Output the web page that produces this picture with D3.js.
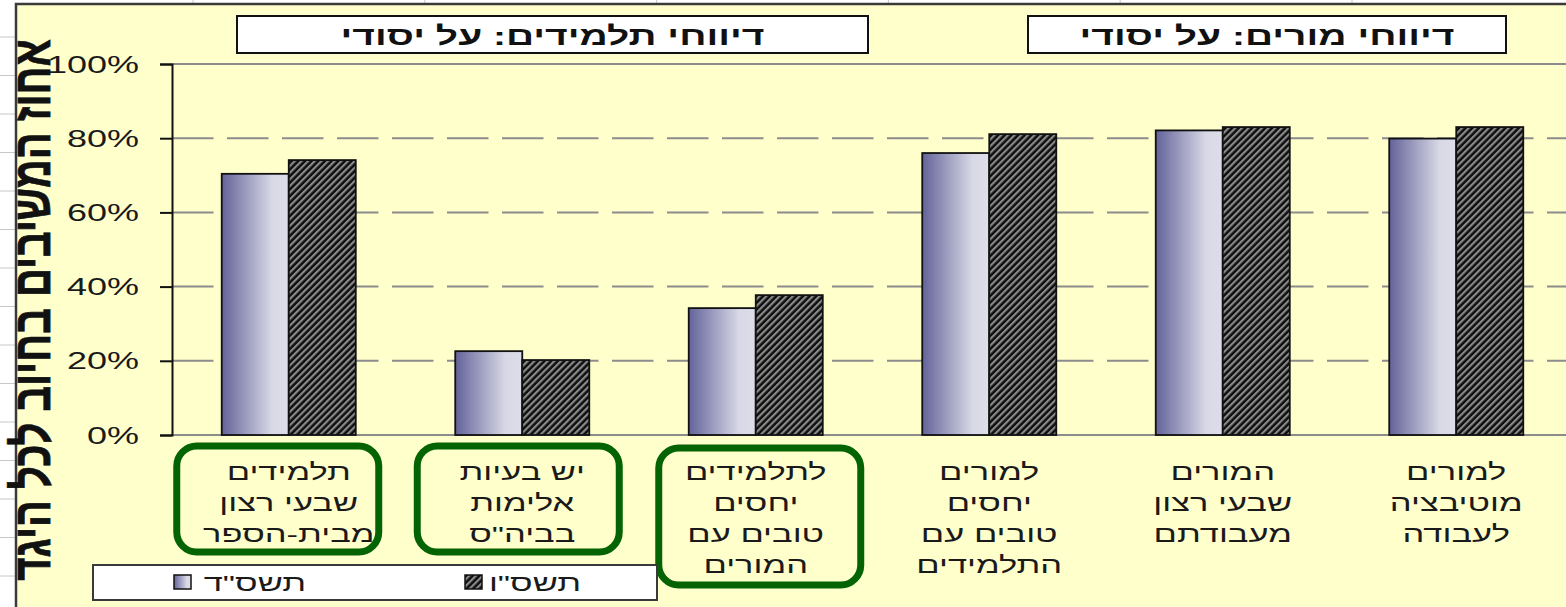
<!DOCTYPE html>
<html>
<head>
<meta charset="utf-8">
<script src="https://cdn.jsdelivr.net/npm/d3@7"></script>
<style>
  html, body { margin: 0; padding: 0; background: #fff; overflow: hidden; }
  svg { display: block; }
</style>
</head>
<body>
<svg id="chart" width="1566" height="607"></svg>
<script>
// ---- data ----
const categories = [
  ["תלמידים", "שבעי רצון", "מבית-הספר"],
  ["יש בעיות", "אלימות", "בביה\"ס"],
  ["לתלמידים", "יחסים", "טובים עם", "המורים"],
  ["למורים", "יחסים", "טובים עם", "התלמידים"],
  ["המורים", "שבעי רצון", "מעבודתם"],
  ["למורים", "מוטיבציה", "לעבודה"]
];
const seriesNames = ["תשס\"ד", "תשס\"ו"];
const valuesTashsad = [70.4, 22.6, 34.2, 76.0, 82.1, 79.9];
const valuesTashsav = [74.1, 20.2, 37.7, 81.1, 83.0, 83.0];
const yTickValues = [0, 20, 40, 60, 80, 100];
const panelTitles = ["דיווחי תלמידים: על יסודי", "דיווחי מורים: על יסודי"];
const yAxisTitle = "אחוז המשיבים בחיוב לכל היגד";
const highlightedCategories = [0, 1, 2];

// ---- layout ----
const W = 1566, H = 607;
const plot = { left: 172, right: 1573, top: 64, bottom: 435 };
const SX = 1.5;                       // horizontal text stretch of the sheet
const FONT = "'Liberation Sans', Arial, sans-serif";
const chartFill = "#FFFFCC";

const svg = d3.select("#chart");
const defs = svg.append("defs");

// gradient fill for the first series
const grad = defs.append("linearGradient").attr("id", "gradA")
  .attr("x1", 0).attr("x2", 1).attr("y1", 0).attr("y2", 0);
grad.append("stop").attr("offset", "0%").attr("stop-color", "#63639a");
grad.append("stop").attr("offset", "75%").attr("stop-color", "#d8d8e6");
grad.append("stop").attr("offset", "100%").attr("stop-color", "#dedeea");

// diagonal hatch for the second series
const hatch = defs.append("pattern").attr("id", "hatchB")
  .attr("patternUnits", "userSpaceOnUse")
  .attr("width", 4.7).attr("height", 4.7)
  .attr("patternTransform", "rotate(45)");
hatch.append("rect").attr("width", 4.7).attr("height", 4.7).attr("fill", "#0d0d0d");
hatch.append("rect").attr("width", 2.2).attr("height", 4.7).attr("fill", "#8a8a8a");

// ---- spreadsheet backdrop ----
svg.append("rect").attr("width", W).attr("height", H).attr("fill", "#fff");
const sheet = svg.append("g").attr("stroke", "#c8c8c8").attr("stroke-width", 1);
d3.range(37, H, 38.5).forEach(y =>
  sheet.append("line").attr("x1", 0).attr("x2", 16).attr("y1", y).attr("y2", y));
d3.range(193, W, 231.8).forEach(x =>
  sheet.append("line").attr("x1", x).attr("x2", x).attr("y1", 0).attr("y2", 4));

// chart area
svg.append("rect").attr("x", 16).attr("y", 4).attr("width", W).attr("height", H)
  .attr("fill", chartFill).attr("stroke", "#3a3a3a").attr("stroke-width", 2.5);

// ---- scales ----
const x0 = d3.scaleBand().domain(d3.range(categories.length))
  .range([plot.left, plot.right]).paddingInner(0.426).paddingOuter(0.213);
const x1 = d3.scaleBand().domain([0, 1]).range([0, x0.bandwidth()]);
const y = d3.scaleLinear().domain([0, 100]).range([plot.bottom, plot.top]);

// gridlines
svg.append("g").selectAll("line")
  .data(yTickValues.filter(v => v > 0 && v < 100)).join("line")
  .attr("x1", plot.left).attr("x2", plot.right)
  .attr("y1", d => y(d)).attr("y2", d => y(d))
  .attr("stroke", "#8c8c8c").attr("stroke-width", 2)
  .attr("stroke-dasharray", "41.5,13.5");
// plot area border (top and bottom visible)
svg.append("g").selectAll("line").data([100, 0]).join("line")
  .attr("x1", plot.left).attr("x2", plot.right)
  .attr("y1", d => y(d)).attr("y2", d => y(d))
  .attr("stroke", "#8c8c8c").attr("stroke-width", 2);

// ---- bars ----
const series = [
  { name: seriesNames[0], values: valuesTashsad, fill: "url(#gradA)" },
  { name: seriesNames[1], values: valuesTashsav, fill: "url(#hatchB)" }
];
const groups = svg.append("g").selectAll("g").data(categories).join("g")
  .attr("transform", (d, i) => `translate(${x0(i)},0)`);
groups.selectAll("rect").data((d, i) => series.map((s, j) => ({ j, v: s.values[i], fill: s.fill })))
  .join("rect")
  .attr("x", d => x1(d.j)).attr("width", x1.bandwidth())
  .attr("y", d => y(d.v)).attr("height", d => y(0) - y(d.v))
  .attr("fill", d => d.fill)
  .attr("stroke", "#111").attr("stroke-width", 1.8);

// ---- value axis ----
const yAxis = svg.append("g").attr("transform", `translate(${plot.left},0)`)
  .call(d3.axisLeft(y).tickValues(yTickValues).tickSize(12).tickPadding(0)
    .tickFormat(d => d + "%"));
yAxis.select(".domain").attr("stroke", "#111").attr("stroke-width", 2);
yAxis.selectAll(".tick line").attr("stroke", "#111").attr("stroke-width", 2);
yAxis.selectAll(".tick text")
  .attr("x", null).attr("dy", null)
  .attr("transform", `translate(-33,8) scale(${SX},1)`)
  .attr("text-anchor", "end")
  .attr("font-family", FONT).attr("font-size", 24).attr("fill", "#1a1a1a");

// ---- category labels ----
const lineH = 31, firstBase = 480;
const catLabels = svg.append("g").selectAll("g").data(categories).join("g")
  .attr("transform", (d, i) => `translate(${x0(i) + x0.bandwidth() / 2},0) scale(${SX},1)`);
catLabels.each(function(lines) {
  const t = d3.select(this).append("text")
    .attr("text-anchor", "middle").attr("direction", "rtl")
    .attr("font-family", FONT).attr("font-size", 23).attr("fill", "#1a1a1a");
  lines.forEach((ln, k) => t.append("tspan").attr("x", 0).attr("y", firstBase + k * lineH).text(ln));
});

// highlight frames around the student-report categories
const frameOffsets = [-11, -4, 4];
svg.append("g").selectAll("rect").data(highlightedCategories).join("rect")
  .attr("x", (d, k) => x0(d) + x0.bandwidth() / 2 + frameOffsets[k] - 101)
  .attr("y", d => categories[d].length > 3 ? 448 : 446)
  .attr("width", 202)
  .attr("height", d => (categories[d].length > 3 ? 137 : 106))
  .attr("rx", 20).attr("ry", 20)
  .attr("fill", "none").attr("stroke", "#046404").attr("stroke-width", 7);

// ---- panel titles ----
const titleBoxes = [{ x: 237, w: 631 }, { x: 1028, w: 478 }];
titleBoxes.forEach((b, i) => {
  svg.append("rect").attr("x", b.x).attr("y", 16).attr("width", b.w).attr("height", 37)
    .attr("fill", "#fff").attr("stroke", "#111").attr("stroke-width", 2);
  svg.append("text")
    .attr("transform", `translate(${b.x + b.w / 2},45) scale(${SX},1)`)
    .attr("text-anchor", "middle").attr("direction", "rtl")
    .attr("font-family", FONT).attr("font-weight", "bold").attr("font-size", 26)
    .attr("fill", "#111").text(panelTitles[i]);
});

// ---- y axis title ----
svg.append("text")
  .attr("transform", `translate(50,310) scale(1.32,1) rotate(-90)`)
  .attr("text-anchor", "middle").attr("direction", "rtl")
  .attr("font-family", FONT).attr("font-weight", "bold").attr("font-size", 40)
  .attr("fill", "#111").attr("stroke", "#111").attr("stroke-width", 0.6)
  .text(yAxisTitle);

// ---- legend ----
const legend = svg.append("g");
legend.append("rect").attr("x", 93).attr("y", 565).attr("width", 564).attr("height", 35)
  .attr("fill", "#fff").attr("stroke", "#3a3a3a").attr("stroke-width", 2);
const legendItems = [{ sx: 174, tx: 306 }, { sx: 465, tx: 581 }];
series.forEach((s, i) => {
  const it = legendItems[i];
  legend.append("rect").attr("x", it.sx).attr("y", 575).attr("width", 17).attr("height", 14)
    .attr("fill", s.fill).attr("stroke", "#111").attr("stroke-width", 1.5);
  legend.append("text")
    .attr("transform", `translate(${it.tx},591) scale(${SX},1)`)
    .attr("text-anchor", "start").attr("direction", "rtl")
    .attr("font-family", FONT).attr("font-size", 23).attr("fill", "#1a1a1a")
    .text(s.name);
});
</script>
</body>
</html>
